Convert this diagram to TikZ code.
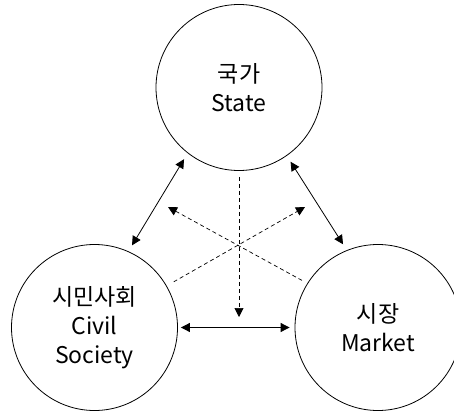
\documentclass[tikz,border=0pt]{standalone}
\usepackage{fontspec}
\setmainfont{Noto Sans CJK KR}
\usepackage{tikz}
\usetikzlibrary{arrows.meta}

\begin{document}
\begin{tikzpicture}[x=1pt, y=-1pt,
    sector/.style={draw, circle, line width=0.8pt, minimum size=166pt, inner sep=0pt,
      align=center, font=\fontsize{23}{29}\selectfont},
    link/.style={line width=0.8pt, {Triangle[length=9pt,width=9pt]}-{Triangle[length=9pt,width=9pt]}},
    flow/.style={line width=0.7pt, dash pattern=on 4pt off 3pt, -{Triangle[length=9pt,width=9pt]}}]
  \useasboundingbox (0,0) rectangle (454,414);

  % three sectors
  \node[sector] (state)  at (239, 87.5)  {국가\\State};
  \node[sector] (civil)  at (94.5, 327.5) {시민사회\\Civil\\Society};
  \node[sector] (market) at (378, 327.5) {시장\\Market};

  % solid two-way links
  \draw[link, shorten <=7pt, shorten >=7pt] (state.232) -- (civil.66);
  \draw[link, shorten <=7pt, shorten >=7pt] (state.305) -- (market.112);
  \draw[link, shorten <=3pt, shorten >=5pt] (civil.east) -- (market.west);

  % dashed influences
  \coordinate (downtip)  at (239, 317);
  \coordinate (righttip) at (305, 207);
  \coordinate (lefttip)  at (168, 207);
  \draw[flow, shorten <=6pt] (state.south) -- (downtip);
  \draw[flow, shorten <=8pt] (civil.30) -- (righttip);
  \draw[flow, shorten <=6pt] (market.148) -- (lefttip);
\end{tikzpicture}
\end{document}
